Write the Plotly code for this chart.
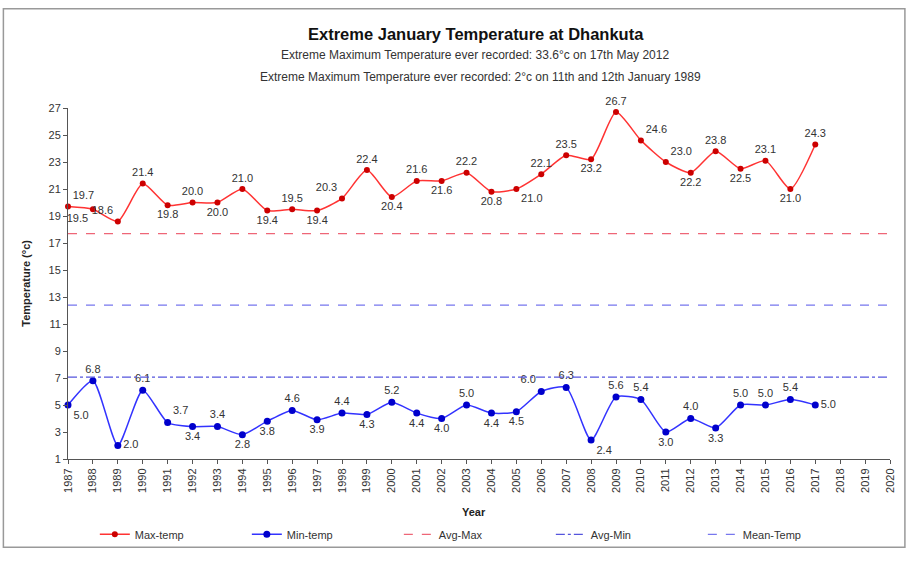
import plotly.graph_objects as go

years = list(range(1987, 2018))
max_temp = [19.7, 19.5, 18.6, 21.4, 19.8, 20.0, 20.0, 21.0, 19.4, 19.5, 19.4, 20.3, 22.4, 20.4,
            21.6, 21.6, 22.2, 20.8, 21.0, 22.1, 23.5, 23.2, 26.7, 24.6, 23.0, 22.2, 23.8, 22.5,
            23.1, 21.0, 24.3]
min_temp = [5.0, 6.8, 2.0, 6.1, 3.7, 3.4, 3.4, 2.8, 3.8, 4.6, 3.9, 4.4, 4.3, 5.2, 4.4, 4.0,
            5.0, 4.4, 4.5, 6.0, 6.3, 2.4, 5.6, 5.4, 3.0, 4.0, 3.3, 5.0, 5.0, 5.4, 5.0]
avg_max = 17.7
avg_min = 7.07
mean_temp = 12.4
axis_years = list(range(1987, 2021))
y_ticks = list(range(1, 28, 2))

max_pos = ["top right", "bottom left", "top left", "top center", "bottom center", "top center",
           "bottom center", "top center", "bottom center", "top center", "bottom center",
           "top left", "top center", "bottom center", "top center", "bottom center", "top center",
           "bottom center", "bottom right", "top center", "top center", "bottom center",
           "top center", "top right", "top right", "bottom center", "top center", "bottom center",
           "top center", "bottom center", "top center"]
min_pos = ["bottom right", "top center", "middle right", "top center", "top right", "bottom center",
           "top center", "bottom center", "bottom center", "top center", "bottom center",
           "top center", "bottom center", "top center", "bottom center", "bottom center",
           "top center", "bottom center", "bottom center", "top left", "top center",
           "bottom right", "top center", "top center", "bottom center", "top center",
           "bottom center", "top center", "top center", "top center", "middle right"]

FONT = "Liberation Sans, Arial, sans-serif"
fig = go.Figure()
fig.add_trace(go.Scatter(
    x=years, y=max_temp, name="Max-temp", mode="lines+markers+text",
    line=dict(color="#ff3333", width=1.5, shape="spline", smoothing=0.6),
    marker=dict(color="#cc0000", size=6),
    text=[f"{v:.1f}" for v in max_temp], textposition=max_pos,
    textfont=dict(size=11, color="#333333", family=FONT), cliponaxis=False))
fig.add_trace(go.Scatter(
    x=years, y=min_temp, name="Min-temp", mode="lines+markers+text",
    line=dict(color="#3333ff", width=1.5, shape="spline", smoothing=0.6),
    marker=dict(color="#0000cc", size=7),
    text=[f"{v:.1f}" for v in min_temp], textposition=min_pos,
    textfont=dict(size=11, color="#333333", family=FONT), cliponaxis=False))
fig.add_trace(go.Scatter(
    x=[axis_years[0], axis_years[-1]], y=[avg_max, avg_max], name="Avg-Max", mode="lines",
    line=dict(color="#ee6677", width=1.2, dash="dash")))
fig.add_trace(go.Scatter(
    x=[axis_years[0], axis_years[-1]], y=[avg_min, avg_min], name="Avg-Min", mode="lines",
    line=dict(color="#5555dd", width=1.2, dash="dashdot")))
fig.add_trace(go.Scatter(
    x=[axis_years[0], axis_years[-1]], y=[mean_temp, mean_temp], name="Mean-Temp", mode="lines",
    line=dict(color="#7777ee", width=1.2, dash="dash")))

L, R, T, B = 68, 13, 108, 99
W, H = 908, 561
pw, ph = W - L - R, H - T - B
def px(x): return (x - L) / pw
def py(y): return (H - B - y) / ph

fig.update_layout(
    width=W, height=H, margin=dict(l=L, r=R, t=T, b=B),
    paper_bgcolor="white", plot_bgcolor="white",
    font=dict(family=FONT, size=11, color="#222222"),
    showlegend=True,
    legend=dict(orientation="h", x=px(95), y=py(538), xanchor="left", yanchor="middle",
                entrywidth=107, entrywidthmode="pixels", font=dict(size=11, color="#333333"),
                bgcolor="rgba(0,0,0,0)"),
    xaxis=dict(range=[1987, 2020], tickmode="array", tickvals=axis_years,
               ticktext=[str(y) for y in axis_years], tickangle=-90, showgrid=False,
               showline=True, linecolor="#555555", ticks="outside", ticklen=4,
               tickcolor="#555555", zeroline=False, tickfont=dict(size=11, color="#333333")),
    yaxis=dict(range=[1, 27], tickmode="array", tickvals=y_ticks, showgrid=False,
               showline=True, linecolor="#555555", ticks="outside", ticklen=4,
               tickcolor="#555555", zeroline=False, tickfont=dict(size=11, color="#333333")),
    annotations=[
        dict(text="<b>Extreme January Temperature at Dhankuta</b>", x=px(478), y=py(33),
             xref="paper", yref="paper", showarrow=False, yanchor="middle",
             font=dict(size=16.5, color="#111111")),
        dict(text="Extreme Maximum Temperature ever recorded: 33.6°c on 17th May 2012",
             x=px(477), y=py(55), xref="paper", yref="paper", showarrow=False, yanchor="middle",
             font=dict(size=12, color="#333333")),
        dict(text="Extreme Maximum Temperature ever recorded: 2°c on 11th and 12th January 1989",
             x=px(483), y=py(77), xref="paper", yref="paper", showarrow=False, yanchor="middle",
             font=dict(size=12, color="#333333")),
        dict(text="<b>Temperature (°c)</b>", x=px(25), y=py(285), xref="paper", yref="paper",
             showarrow=False, textangle=-90, yanchor="middle", xanchor="center",
             font=dict(size=11, color="#222222")),
        dict(text="<b>Year</b>", x=px(476), y=py(515), xref="paper", yref="paper",
             showarrow=False, yanchor="middle", font=dict(size=11, color="#222222")),
    ],
    shapes=[dict(type="rect", xref="paper", yref="paper", x0=px(3), x1=px(910),
                 y0=py(551), y1=py(8), line=dict(color="#999999", width=1.5))],
)

fig.write_html("out.html", config={"displayModeBar": False},
               post_script="document.body.style.margin='0';document.body.style.overflow='hidden';")
